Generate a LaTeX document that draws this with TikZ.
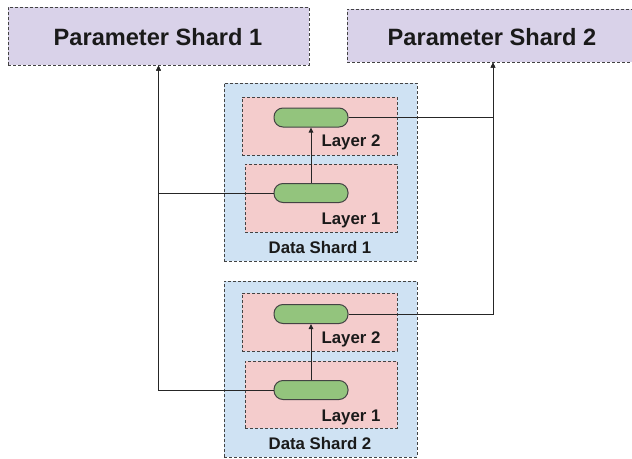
\documentclass[tikz,border=0pt]{standalone}
\usepackage{fontspec}
\setmainfont{Liberation Sans}
\usetikzlibrary{arrows.meta}
\definecolor{lav}{HTML}{D9D2E9}
\definecolor{dsblue}{HTML}{CFE2F3}
\definecolor{lpink}{HTML}{F4CCCC}
\definecolor{pgreen}{HTML}{93C47D}
\definecolor{bord}{HTML}{434343}
\definecolor{txt}{HTML}{1A1A1A}
\definecolor{wire}{HTML}{262626}
\tikzset{
  dbox/.style={draw=bord, line width=1pt, dash pattern=on 3pt off 2pt, inner sep=0pt},
  param/.style={dbox, fill=lav},
  shardbox/.style={dbox, fill=dsblue, minimum width=193pt},
  layerbox/.style={dbox, fill=lpink},
  pill/.style={draw=bord, line width=1pt, fill=pgreen, rounded corners=9pt, minimum width=74pt, minimum height=19pt, inner sep=0pt},
  bigtxt/.style={anchor=base, text=txt, font=\fontsize{23.6}{28}\selectfont\bfseries, inner sep=0pt},
  smtxt/.style={anchor=base, text=txt, font=\fontsize{16.8}{20}\selectfont\bfseries, inner sep=0pt},
  arr/.style={draw=wire, line width=1pt, -{Triangle[length=5pt,width=4.5pt]}},
}
\begin{document}
\begin{tikzpicture}[x=1pt,y=-1pt]
\useasboundingbox (0,0) rectangle (632,458);
\clip (0,0) rectangle (632,458);
% parameter shards
\node[param, minimum width=301pt, minimum height=58pt] (ps1) at (158.5,36) {};
\node[param, minimum width=292pt, minimum height=53pt] (ps2) at (493,35.5) {};
\node[bigtxt] (ps1t) at (158,45) {Parameter Shard 1};
\node[bigtxt] (ps2t) at (492,45) {Parameter Shard 2};
% data shard 1
\node[shardbox, minimum height=178pt] (ds1) at (320.5,172) {};
\node[layerbox, minimum width=155pt, minimum height=58pt] (l12) at (319.5,126) {};
\node[layerbox, minimum width=152pt, minimum height=68pt] (l11) at (321,198) {};
\node[pill] (p12) at (311,117.5) {};
\node[pill] (p11) at (311,193) {};
\node[smtxt] (l12t) at (351,146) {Layer 2};
\node[smtxt] (l11t) at (351,224) {Layer 1};
\node[smtxt] (ds1t) at (320,253) {Data Shard 1};
% data shard 2
\node[shardbox, minimum height=176pt] (ds2) at (320.5,369) {};
\node[layerbox, minimum width=155pt, minimum height=58pt] (l22) at (319.5,322) {};
\node[layerbox, minimum width=152pt, minimum height=67pt] (l21) at (321,394.5) {};
\node[pill] (p22) at (311,314) {};
\node[pill] (p21) at (311,390) {};
\node[smtxt] (l22t) at (351,343) {Layer 2};
\node[smtxt] (l21t) at (351,421) {Layer 1};
\node[smtxt] (ds2t) at (320,449) {Data Shard 2};
% connectors
\draw[arr] (p11.north) -- (p12.south);
\draw[arr] (p21.north) -- (p22.south);
\draw[arr] (p21.west) -| (ps1.south);
\draw[arr] (p11.west) -| (ps1.south);
\draw[arr] (p22.east) -| (ps2.south);
\draw[arr] (p12.east) -| (ps2.south);
\end{tikzpicture}
\end{document}
